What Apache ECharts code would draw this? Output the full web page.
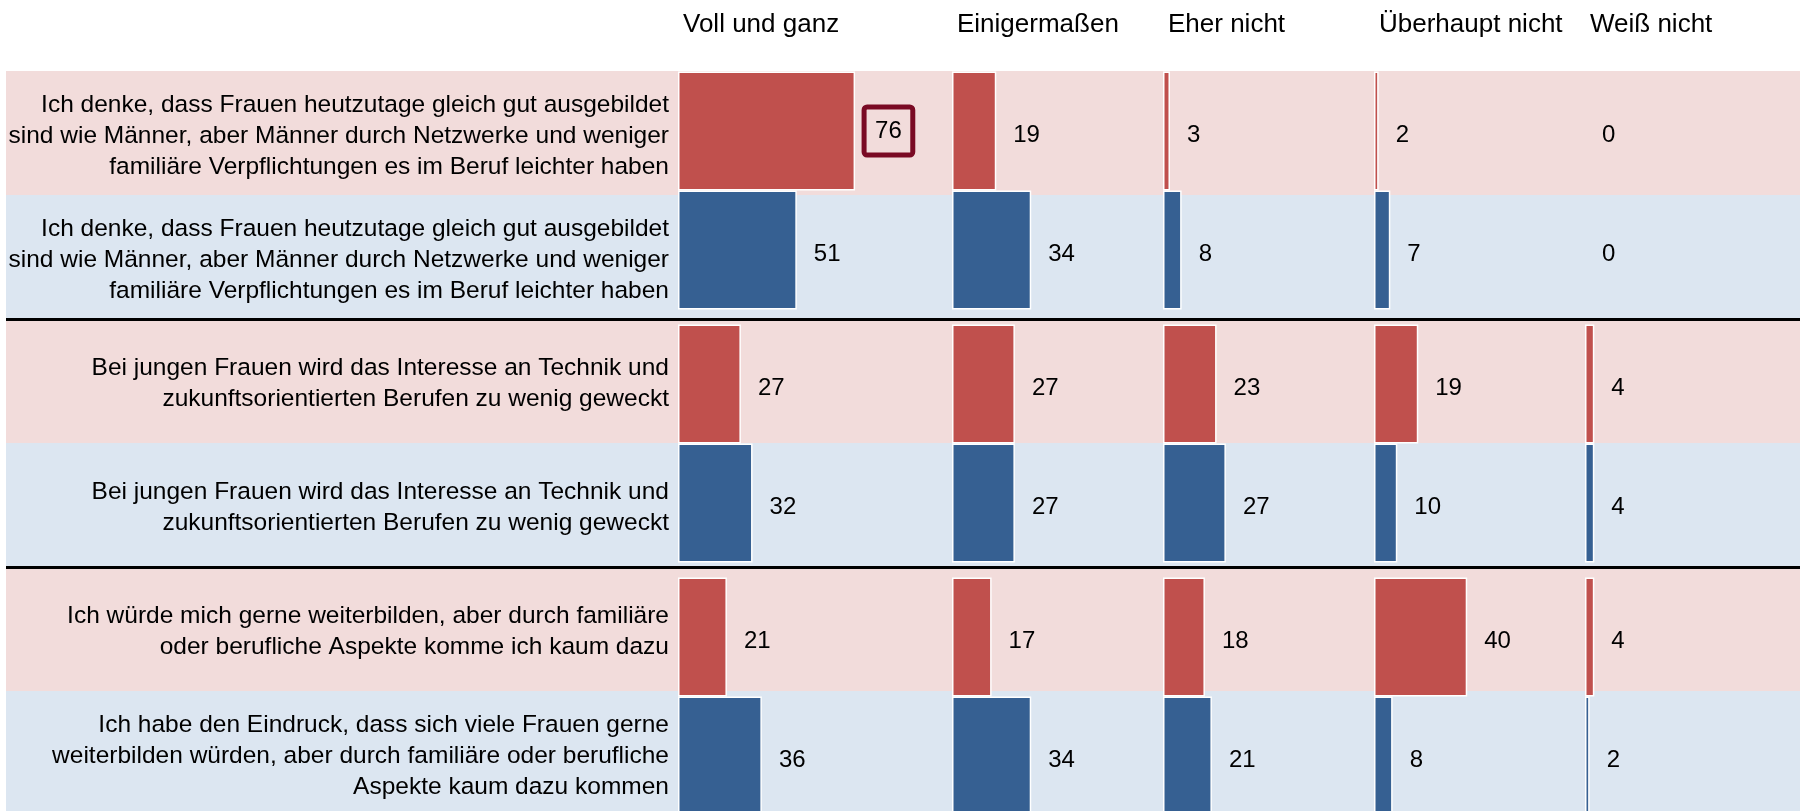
<!DOCTYPE html>
<html>
<head>
<meta charset="utf-8">
<script src="https://cdn.jsdelivr.net/npm/echarts@6/dist/echarts.min.js"></script>
<style>
  html, body { margin: 0; padding: 0; background: #fff; }
  #chart { width: 1800px; height: 811px; }
</style>
</head>
<body>
<div id="chart"></div>
<script>
// row statements (red = group A, blue = group B, alternating)
const rows = [
  'Ich denke, dass Frauen heutzutage gleich gut ausgebildet\nsind wie Männer, aber Männer durch Netzwerke und weniger\nfamiliäre Verpflichtungen es im Beruf leichter haben',
  'Ich denke, dass Frauen heutzutage gleich gut ausgebildet\nsind wie Männer, aber Männer durch Netzwerke und weniger\nfamiliäre Verpflichtungen es im Beruf leichter haben',
  'Bei jungen Frauen wird das Interesse an Technik und\nzukunftsorientierten Berufen zu wenig geweckt',
  'Bei jungen Frauen wird das Interesse an Technik und\nzukunftsorientierten Berufen zu wenig geweckt',
  'Ich würde mich gerne weiterbilden, aber durch familiäre\noder berufliche Aspekte komme ich kaum dazu',
  'Ich habe den Eindruck, dass sich viele Frauen gerne\nweiterbilden würden, aber durch familiäre oder berufliche\nAspekte kaum dazu kommen'
]

// statement pairs (one red row + one blue row each)
const pairs = ['A', 'B', 'C']

const answers = ['Voll und ganz', 'Einigermaßen', 'Eher nicht', 'Überhaupt nicht', 'Weiß nicht']

const vollUndGanz = [76, 51, 27, 32, 21, 36]
const einigermassen = [19, 34, 27, 27, 17, 34]
const eherNicht = [3, 8, 23, 27, 18, 21]
const ueberhauptNicht = [2, 7, 19, 10, 40, 8]
const weissNicht = [0, 0, 4, 4, 4, 2]

// highlighted cell: [answer column, row]
const highlight = [0, 0]

const columns = [vollUndGanz, einigermassen, eherNicht, ueberhauptNicht, weissNicht]

const colLeft = [678, 952, 1163, 1374, 1585]
const pxPerUnit = 2.33
const axisMax = 80

const red = '#C0504D'
const blue = '#366092'
const font = 'Liberation Sans, Arial, sans-serif'

const chart = echarts.init(document.getElementById('chart'))

// grid 0: background bands, grid 1: row labels
const grid = [
  { left: 6, right: 0, top: 71, height: 744, outerBoundsMode: 'none' },
  { left: 678, width: 10, top: 74, height: 744, outerBoundsMode: 'none' }
]
const xAxis = [
  { gridIndex: 0, type: 'value', show: false, min: 0, max: 1 },
  { gridIndex: 1, type: 'value', show: false, min: 0, max: 1 }
]
const yAxis = [{
  gridIndex: 0,
  type: 'category',
  data: rows,
  inverse: true,
  axisLine: { show: false },
  axisTick: { show: false },
  axisLabel: { show: false },
  splitArea: { show: true, interval: 0, areaStyle: { color: ['#F2DCDB', '#DCE6F1'] } },
  splitLine: {
    show: true,
    interval: (idx) => idx === 2 || idx === 4,
    lineStyle: { color: '#000', width: 3 }
  }
}, {
  gridIndex: 1,
  type: 'category',
  data: rows,
  inverse: true,
  axisLine: { show: false },
  axisTick: { show: false },
  splitLine: { show: false },
  axisLabel: {
    margin: 9,
    align: 'right',
    fontSize: 24.5,
    lineHeight: 31,
    color: '#000',
    fontFamily: font
  }
}]
const series = []

function cell(vals, c, r) {
  const v = vals[r]
  const item = { value: v }
  if (v === 0) item.itemStyle = { borderWidth: 0 }
  if (c === highlight[0] && r === highlight[1]) {
    item.label = {
      distance: 9,
      offset: [0, 0],
      borderColor: '#7A0A24',
      borderWidth: 5,
      borderRadius: 3,
      padding: [14, 11, 10, 11]
    }
  }
  return item
}

columns.forEach((vals, c) => {
  const gi = c + 2
  grid.push({ left: colLeft[c], top: 64, height: 759, width: axisMax * pxPerUnit, outerBoundsMode: 'none' })
  xAxis.push({
    gridIndex: gi,
    type: 'value',
    min: 0,
    max: axisMax,
    position: 'top',
    offset: 39,
    name: answers[c],
    nameLocation: 'start',
    nameGap: -5,
    nameTextStyle: { align: 'left', verticalAlign: 'middle', fontSize: 26, color: '#000', fontFamily: font },
    axisLine: { show: false },
    axisTick: { show: false },
    axisLabel: { show: false },
    splitLine: { show: false }
  })
  yAxis.push({
    gridIndex: gi,
    type: 'category',
    data: pairs,
    inverse: true,
    show: false
  })
  ;[0, 1].forEach((k) => {
    series.push({
      type: 'bar',
      xAxisIndex: gi,
      yAxisIndex: gi,
      barWidth: 119,
      barGap: '0%',
      itemStyle: {
        color: k ? blue : red,
        borderColor: '#fff',
        borderWidth: 1.5
      },
      label: {
        show: true,
        position: 'right',
        distance: 17,
        offset: [0, 4],
        fontSize: 24,
        color: '#000',
        fontFamily: font
      },
      data: pairs.map((p, g) => cell(vals, c, g * 2 + k))
    })
  })
})

chart.setOption({
  backgroundColor: '#fff',
  animation: false,
  grid: grid,
  xAxis: xAxis,
  yAxis: yAxis,
  series: series
})
</script>
</body>
</html>
